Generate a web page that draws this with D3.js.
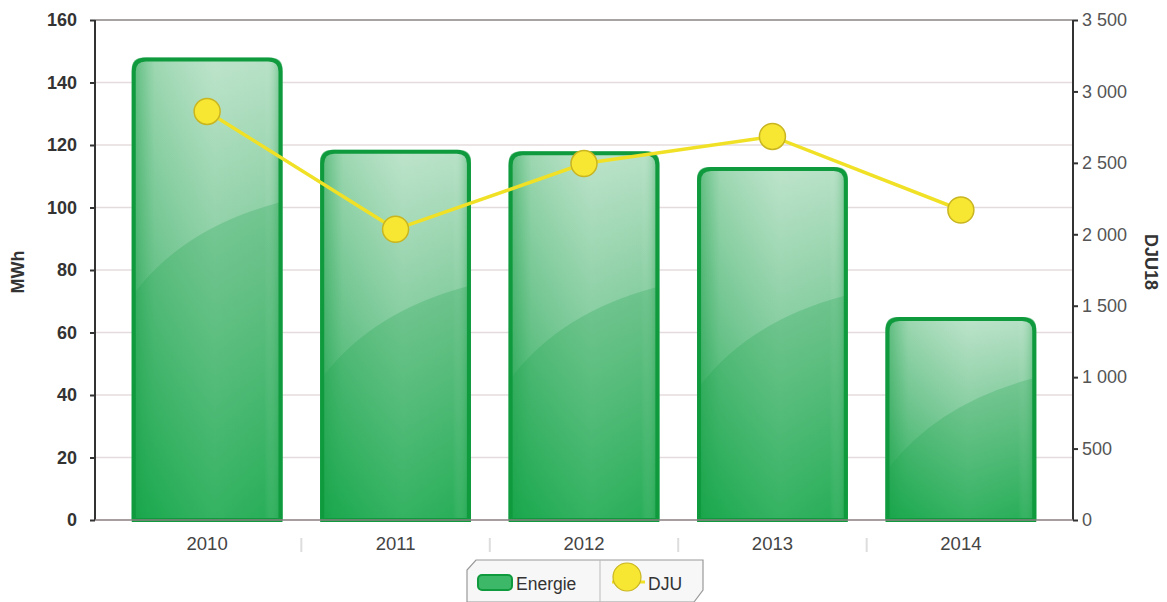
<!DOCTYPE html>
<html><head><meta charset="utf-8">
<script src="https://cdn.jsdelivr.net/npm/d3@7"></script>
<style>body{margin:0;background:#fff;}svg{display:block;font-family:"Liberation Sans",Arial,sans-serif;}</style>
</head><body>
<svg id="c" width="1167" height="602"></svg>
<script>
const years = ["2010","2011","2012","2013","2014"];
const energie = [148, 118.5, 118, 113, 65];
const dju = [2860, 2035, 2495, 2685, 2170];
const leftTicks = [0,20,40,60,80,100,120,140,160];
const rightTicks = [0,500,1000,1500,2000,2500,3000,3500];

const svg = d3.select("#c");
const L = 95, R = 1073, T = 20, B = 520;
const x = d3.scaleBand().domain(years).range([L, R]).paddingInner(0.2).paddingOuter(0.195);
const yL = d3.scaleLinear().domain([0,160]).range([B, T]);
const yR = d3.scaleLinear().domain([0,3500]).range([B, T]);

const defs = svg.append("defs");
const gv = defs.append("linearGradient").attr("id","gv").attr("x1",0).attr("y1",0).attr("x2",0).attr("y2",1);
gv.append("stop").attr("offset","0%").attr("stop-color","#b5e0c4");
gv.append("stop").attr("offset","45%").attr("stop-color","#79c896");
gv.append("stop").attr("offset","100%").attr("stop-color","#22ae55");
const gh = defs.append("linearGradient").attr("id","gh").attr("x1",0).attr("y1",0).attr("x2",1).attr("y2",0);
gh.append("stop").attr("offset","0%").attr("stop-color","#0d9a3c").attr("stop-opacity",0.55);
gh.append("stop").attr("offset","15%").attr("stop-color","#1aa64b").attr("stop-opacity",0.15);
gh.append("stop").attr("offset","55%").attr("stop-color","#ffffff").attr("stop-opacity",0.12);
gh.append("stop").attr("offset","88%").attr("stop-color","#ffffff").attr("stop-opacity",0.05);
gh.append("stop").attr("offset","100%").attr("stop-color","#0d9a3c").attr("stop-opacity",0.5);

// gridlines
svg.append("g").selectAll("line").data(leftTicks.filter(d=>d>0 && d<160)).join("line")
  .attr("x1",L).attr("x2",R).attr("y1",d=>yL(d)).attr("y2",d=>yL(d))
  .attr("stroke","#e4dcdc").attr("stroke-width",1.5);
svg.append("line").attr("x1",L).attr("x2",R).attr("y1",T).attr("y2",T).attr("stroke","#8a8585").attr("stroke-width",1.5);

// bars
const rr = 12;
function barPath(x0, w, yt, yb){
  return `M${x0},${yb} L${x0},${yt+rr} Q${x0},${yt} ${x0+rr},${yt} L${x0+w-rr},${yt} Q${x0+w},${yt} ${x0+w},${yt+rr} L${x0+w},${yb} Z`;
}
const bars = svg.append("g");
years.forEach((yr,i)=>{
  const x0 = x(yr), w = x.bandwidth(), yt = yL(energie[i]);
  bars.append("path").attr("d", barPath(x0,w,yt,B)).attr("fill","url(#gv)");
  bars.append("path").attr("d", barPath(x0,w,yt,B)).attr("fill","url(#gh)");
  const h = B - yt;
  const ya = yt + Math.min(h*0.45, 175);
  bars.append("path")
    .attr("d", `M${x0+3},${ya+60} Q${x0+w*0.35},${ya-5} ${x0+w-3},${ya-30} L${x0+w-3},${B} L${x0+3},${B} Z`)
    .attr("fill","#1aa54c").attr("opacity",0.25);
  bars.append("path").attr("d", barPath(x0+2,w-4,yt+2,B)).attr("fill","none")
    .attr("stroke","#0f9a3e").attr("stroke-width",4);
});

// axes
svg.append("line").attr("x1",L).attr("x2",L).attr("y1",T).attr("y2",B).attr("stroke","#333").attr("stroke-width",2);
svg.append("line").attr("x1",R).attr("x2",R).attr("y1",T).attr("y2",B).attr("stroke","#333").attr("stroke-width",2);
svg.append("line").attr("x1",L).attr("x2",R).attr("y1",B).attr("y2",B).attr("stroke","#8a7f7f").attr("stroke-width",1.5);

const axL = d3.axisLeft(yL).tickValues(leftTicks).tickSize(5).tickPadding(13);
const gL = svg.append("g").attr("transform",`translate(${L},0)`).call(axL);
gL.select(".domain").remove();
gL.selectAll("line").attr("stroke","#333").attr("stroke-width",2);
gL.selectAll("text").attr("font-size",18).attr("font-weight","bold").attr("fill","#333");

const fmtR = d => d3.format(",")(d).replace(/,/g," ");
const axR = d3.axisRight(yR).tickValues(rightTicks).tickFormat(fmtR).tickSize(5).tickPadding(4);
const gR = svg.append("g").attr("transform",`translate(${R},0)`).call(axR);
gR.select(".domain").remove();
gR.selectAll("line").attr("stroke","#333").attr("stroke-width",2);
gR.selectAll("text").attr("font-size",18).attr("fill","#555");

const axB = d3.axisBottom(x).tickSize(0).tickPadding(17);
const gB = svg.append("g").attr("transform",`translate(0,${B})`).call(axB);
gB.select(".domain").remove();
gB.selectAll("text").attr("font-size",18.5).attr("fill","#444");
svg.append("g").selectAll("line").data(years.slice(1)).join("line")
  .attr("x1",d=>x(d)-x.step()*x.paddingInner()/2).attr("x2",d=>x(d)-x.step()*x.paddingInner()/2)
  .attr("y1",B+18).attr("y2",B+32).attr("stroke","#ddd").attr("stroke-width",2);

// axis titles
svg.append("text").attr("transform","translate(24,272) rotate(-90)").attr("text-anchor","middle")
  .attr("font-size",18).attr("font-weight","bold").attr("fill","#333").text("MWh");
svg.append("text").attr("transform","translate(1145,262) rotate(90)").attr("text-anchor","middle")
  .attr("font-size",18).attr("font-weight","bold").attr("fill","#333").text("DJU18");

// line
const line = d3.line().x((d,i)=>x(years[i])+x.bandwidth()/2).y(d=>yR(d));
svg.append("path").datum(dju).attr("d",line).attr("fill","none").attr("stroke","#f0e126").attr("stroke-width",3.5);
svg.append("g").selectAll("circle").data(dju).join("circle")
  .attr("cx",(d,i)=>x(years[i])+x.bandwidth()/2).attr("cy",d=>yR(d)).attr("r",13)
  .attr("fill","#f7e733").attr("stroke","#c9b520").attr("stroke-width",1.5);

// legend
const lg = svg.append("g");
lg.append("path").attr("d","M476,560 L703,560 L703,590 L694,602 L467,602 L467,570 Z")
  .attr("fill","#f7f7f7").attr("stroke","#999").attr("stroke-width",1.2);
lg.append("line").attr("x1",600).attr("x2",600).attr("y1",560).attr("y2",602).attr("stroke","#bbb").attr("stroke-width",1);
lg.append("rect").attr("x",478).attr("y",575).attr("width",34).attr("height",15).attr("rx",4)
  .attr("fill","#3cb868").attr("stroke","#0f9a3e").attr("stroke-width",2);
lg.append("text").attr("x",516).attr("y",590).attr("font-size",17.5).attr("fill","#333").text("Energie");
lg.append("line").attr("x1",612).attr("x2",645).attr("y1",582).attr("y2",582).attr("stroke","#f0e126").attr("stroke-width",3);
lg.append("circle").attr("cx",627).attr("cy",577).attr("r",14).attr("fill","#f7e733").attr("stroke","#c9b520").attr("stroke-width",1.2);
lg.append("text").attr("x",648).attr("y",590).attr("font-size",17.5).attr("fill","#333").text("DJU");
</script>
</body></html>
